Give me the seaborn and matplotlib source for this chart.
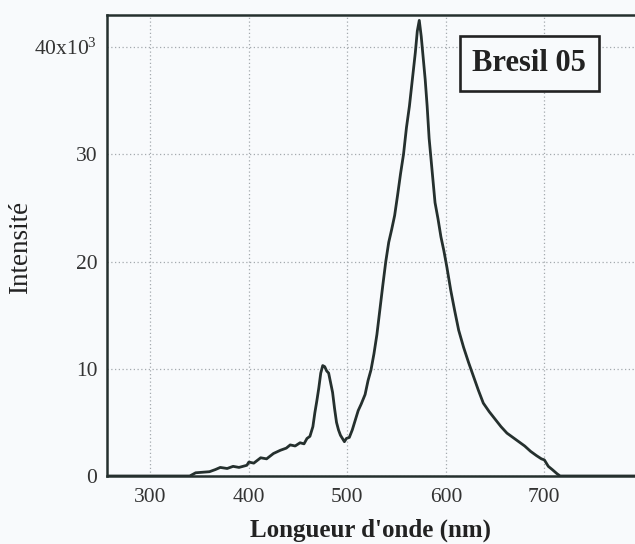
import pandas as pd
import matplotlib
matplotlib.use("Agg")
import matplotlib.pyplot as plt
import seaborn as sns

# Spectrum (wavelength in nm, intensity in counts)
wavelength = [256, 300, 340, 346, 360, 366, 371, 378, 384, 390, 398, 400, 405,
              412, 418, 425, 432, 438, 442, 447, 452, 456, 459, 462, 465, 467,
              469, 471, 473, 475, 477, 479, 481, 483, 485, 487, 489, 491, 493,
              495, 497, 499, 502, 505, 508, 511, 514, 518, 521, 524, 527, 530,
              533, 536, 539, 542, 545, 548, 551, 554, 557, 560, 563, 566, 569,
              571, 573, 575, 577, 579, 581, 583, 585, 589, 592, 595, 598, 601,
              605, 609, 613, 618, 623, 628, 633, 638, 644, 650, 656, 662, 668,
              674, 680, 686, 692, 697, 700, 704, 708, 713, 716, 800]
intensity_k = [0, 0, 0, 0.3, 0.4, 0.6, 0.8, 0.7, 0.9, 0.8, 1.0, 1.3, 1.2,
               1.7, 1.6, 2.1, 2.4, 2.6, 2.9, 2.8, 3.1, 3.0, 3.5, 3.7, 4.6, 5.9,
               7.0, 8.2, 9.6, 10.3, 10.2, 9.8, 9.6, 8.7, 7.8, 6.3, 5.0, 4.3, 3.8,
               3.5, 3.2, 3.5, 3.6, 4.3, 5.2, 6.1, 6.7, 7.6, 8.9, 9.9, 11.4, 13.2,
               15.5, 17.8, 20.0, 21.8, 23.0, 24.3, 26.2, 28.2, 30.0, 32.5, 34.5, 37.0, 39.5,
               41.5, 42.5, 41.0, 39.0, 37.0, 34.5, 31.5, 29.5, 25.5, 24.0, 22.3, 21.0, 19.5,
               17.3, 15.4, 13.6, 12.0, 10.6, 9.3, 8.0, 6.8, 6.0, 5.3, 4.6, 4.0, 3.6,
               3.2, 2.8, 2.3, 1.9, 1.6, 1.5, 0.9, 0.6, 0.2, 0, 0]

x_ticks = [300, 400, 500, 600, 700]
y_ticks = [0, 10000, 20000, 30000, 40000]
y_tick_labels = ["0", "10", "20", "30", "40x10$^{3}$"]
sample_name = "Bresil 05"

df = pd.DataFrame({"wavelength": wavelength,
                   "intensity": [v * 1000 for v in intensity_k]})

sns.set_style("white")
plt.rcParams["font.family"] = ["Liberation Serif", "DejaVu Serif"]
plt.rcParams["mathtext.default"] = "regular"

bg = "#f8fafc"
ink = "#25302e"

fig = plt.figure(figsize=(6.35, 5.44), dpi=100, facecolor=bg)
ax = fig.add_axes([0.1685, 0.125, 0.8315, 0.8474], facecolor=bg)

sns.lineplot(data=df, x="wavelength", y="intensity", ax=ax,
             color=ink, linewidth=2.0)

ax.set_xlim(256, 792)
ax.set_ylim(0, 43000)
ax.set_xticks(x_ticks)
ax.set_yticks(y_ticks)
ax.set_yticklabels(y_tick_labels)

ax.grid(True, linestyle=(0, (1, 2)), color="#a4aaae", linewidth=0.9)
ax.tick_params(direction="in", length=14, width=1.6, colors=ink,
               labelsize=15.5, pad=7, labelcolor="#333333")
ax.tick_params(axis="x", pad=9)

for side in ["left", "bottom", "top"]:
    ax.spines[side].set_linewidth(1.8)
    ax.spines[side].set_color(ink)
ax.spines["right"].set_visible(False)

ax.set_xlabel("Longueur d'onde (nm)", fontsize=18, fontweight="bold",
              color="#222222", labelpad=8)
ax.set_ylabel("Intensité", fontsize=19.5, color="#222222")
ax.yaxis.set_label_coords(-0.14, 0.495)

ax.text(0.80, 0.895, sample_name, transform=ax.transAxes, fontsize=22,
        fontweight="bold", color="#222222", ha="center", va="center",
        bbox=dict(boxstyle="square,pad=0.42", facecolor=bg,
                  edgecolor="#222222", linewidth=1.9))

fig.savefig("out.png", dpi=100, facecolor=bg)
